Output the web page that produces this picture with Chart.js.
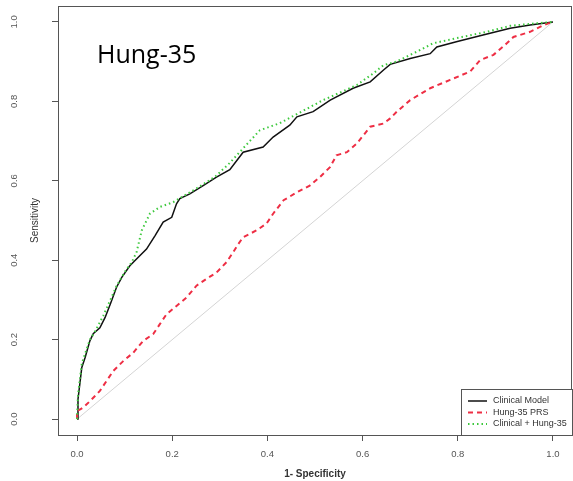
<!DOCTYPE html>
<html lang="en">
<head>
    <meta charset="UTF-8">
    <title>Hung-35 ROC</title>
    <script src="https://cdn.jsdelivr.net/npm/chart.js"></script>
    <style>
        html, body { margin: 0; padding: 0; background: #fff; }
        #wrap { width: 573px; height: 481px; position: relative; }
    </style>
</head>
<body>
    <div id="wrap"><canvas id="roc"></canvas></div>

    <script>
        // ROC curves (x = 1 - specificity, y = sensitivity)
        var clinicalX = [0, 0.002, 0.006, 0.01, 0.017, 0.027, 0.034, 0.048, 0.059, 0.07, 0.083, 0.094, 0.111, 0.125, 0.146, 0.164, 0.181, 0.199, 0.209, 0.216, 0.237, 0.265, 0.293, 0.321, 0.349, 0.391, 0.412, 0.447, 0.462, 0.496, 0.532, 0.58, 0.616, 0.644, 0.658, 0.7, 0.742, 0.756, 0.797, 0.853, 0.91, 0.952, 1];
        var clinicalY = [0, 0.05, 0.09, 0.13, 0.155, 0.197, 0.215, 0.23, 0.256, 0.29, 0.332, 0.357, 0.386, 0.403, 0.428, 0.462, 0.496, 0.508, 0.542, 0.555, 0.567, 0.588, 0.609, 0.628, 0.672, 0.685, 0.71, 0.74, 0.761, 0.774, 0.803, 0.833, 0.849, 0.879, 0.893, 0.908, 0.92, 0.937, 0.95, 0.967, 0.984, 0.992, 1];

        var prsX = [0, 0, 0.013, 0.027, 0.048, 0.062, 0.076, 0.097, 0.118, 0.139, 0.16, 0.174, 0.188, 0.209, 0.23, 0.251, 0.272, 0.293, 0.314, 0.328, 0.339, 0.349, 0.377, 0.398, 0.412, 0.434, 0.462, 0.489, 0.51, 0.532, 0.545, 0.567, 0.588, 0.616, 0.644, 0.658, 0.672, 0.7, 0.742, 0.784, 0.826, 0.847, 0.875, 0.903, 0.917, 0.952, 0.98, 1];
        var prsY = [0, 0.02, 0.029, 0.045, 0.071, 0.096, 0.121, 0.146, 0.167, 0.197, 0.214, 0.239, 0.264, 0.285, 0.306, 0.336, 0.353, 0.369, 0.395, 0.42, 0.441, 0.458, 0.475, 0.492, 0.517, 0.551, 0.571, 0.588, 0.609, 0.635, 0.664, 0.672, 0.694, 0.736, 0.744, 0.757, 0.774, 0.803, 0.833, 0.854, 0.875, 0.904, 0.917, 0.946, 0.962, 0.975, 0.992, 1];

        var comboX = [0, 0.002, 0.006, 0.01, 0.017, 0.027, 0.04, 0.055, 0.07, 0.083, 0.1, 0.115, 0.125, 0.136, 0.153, 0.174, 0.202, 0.216, 0.25, 0.29, 0.321, 0.363, 0.384, 0.426, 0.462, 0.517, 0.588, 0.622, 0.644, 0.671, 0.714, 0.748, 0.797, 0.861, 0.91, 0.952, 1];
        var comboY = [0, 0.06, 0.1, 0.14, 0.165, 0.2, 0.225, 0.26, 0.3, 0.335, 0.37, 0.395, 0.42, 0.475, 0.517, 0.534, 0.546, 0.556, 0.58, 0.61, 0.645, 0.7, 0.727, 0.745, 0.768, 0.803, 0.841, 0.87, 0.891, 0.9, 0.925, 0.946, 0.959, 0.975, 0.99, 0.995, 1];

        var refX = [0, 1];
        var refY = [0, 1];

        var tickValues = [0, 0.2, 0.4, 0.6, 0.8, 1.0];
        var seriesNames = ['Clinical Model', 'Hung-35 PRS', 'Clinical + Hung-35'];
        var panelTitle = 'Hung-35';

        function toPoints(xs, ys) {
            return xs.map(function (x, i) { return { x: x, y: ys[i] }; });
        }

        var frameColor = '#555';
        var tickFont = '9.5px "Liberation Sans", Arial, sans-serif';

        // frame, rotated y tick labels, panel title and R-style legend
        var extras = {
            id: 'extras',
            afterDatasetsDraw: function (chart) {
                var ctx = chart.ctx;
                var a = chart.chartArea;
                var ys = chart.scales.y;
                ctx.save();

                // box round the plot
                ctx.strokeStyle = frameColor;
                ctx.lineWidth = 1;
                ctx.strokeRect(a.left + 0.5, a.top + 0.5, a.right - a.left - 1, a.bottom - a.top);

                // y tick labels, read bottom to top
                ctx.fillStyle = '#555';
                ctx.font = tickFont;
                ctx.textAlign = 'center';
                ctx.textBaseline = 'middle';
                tickValues.forEach(function (v) {
                    ctx.save();
                    ctx.translate(14, ys.getPixelForValue(v));
                    ctx.rotate(-Math.PI / 2);
                    ctx.fillText(v.toFixed(1), 0, 0);
                    ctx.restore();
                });

                // panel title
                ctx.fillStyle = '#000';
                ctx.font = '25px "Open Sans", sans-serif';
                ctx.textAlign = 'left';
                ctx.textBaseline = 'alphabetic';
                ctx.fillText(panelTitle, 97, 63);

                // legend
                var lx = 461, ly = 389;
                ctx.fillStyle = '#fff';
                ctx.fillRect(lx, ly, a.right - lx, a.bottom - ly);
                ctx.strokeStyle = frameColor;
                ctx.strokeRect(lx + 0.5, ly + 0.5, a.right - lx, a.bottom - ly);
                ctx.font = '9px "Liberation Sans", Arial, sans-serif';
                ctx.textBaseline = 'middle';
                chart.data.datasets.slice(0, 3).forEach(function (ds, i) {
                    var yy = ly + 12 + i * 11.5;
                    ctx.strokeStyle = ds.borderColor;
                    ctx.lineWidth = ds.borderWidth;
                    ctx.setLineDash(ds.borderDash || []);
                    ctx.beginPath();
                    ctx.moveTo(468, yy);
                    ctx.lineTo(487, yy);
                    ctx.stroke();
                    ctx.setLineDash([]);
                    ctx.fillStyle = '#333';
                    ctx.fillText(seriesNames[i], 493, yy);
                });
                ctx.restore();
            }
        };

        var ctx = document.getElementById('roc').getContext('2d');
        var rocChart = new Chart(ctx, {
            type: 'line',
            data: {
                datasets: [{
                    label: seriesNames[0],
                    data: toPoints(clinicalX, clinicalY),
                    borderColor: '#111',
                    borderWidth: 1.5,
                    order: 3
                }, {
                    label: seriesNames[1],
                    data: toPoints(prsX, prsY),
                    borderColor: '#ee2e44',
                    borderWidth: 2,
                    borderDash: [5, 4],
                    order: 2
                }, {
                    label: seriesNames[2],
                    data: toPoints(comboX, comboY),
                    borderColor: '#3cc83c',
                    borderWidth: 2,
                    borderDash: [1.5, 3],
                    order: 1
                }, {
                    label: 'reference',
                    data: toPoints(refX, refY),
                    borderColor: '#d4d4d4',
                    borderWidth: 1,
                    order: 4
                }]
            },
            options: {
                responsive: true,
                maintainAspectRatio: false,
                animation: false,
                elements: { point: { radius: 0 }, line: { tension: 0 } },
                layout: { padding: { top: 6, right: 1, left: 0, bottom: 0 } },
                plugins: {
                    legend: { display: false },
                    tooltip: { enabled: false }
                },
                scales: {
                    x: {
                        type: 'linear',
                        min: -0.04,
                        max: 1.04,
                        afterBuildTicks: function (s) { s.ticks = tickValues.map(function (v) { return { value: v }; }); },
                        afterFit: function (s) { s.height = 46; },
                        grid: { drawOnChartArea: false, tickLength: 6, color: frameColor },
                        border: { display: false },
                        ticks: {
                            padding: 8,
                            maxRotation: 0,
                            color: '#555',
                            font: { family: '"Liberation Sans", Arial, sans-serif', size: 9.5 },
                            callback: function (v) { return v.toFixed(1); }
                        },
                        title: {
                            display: true,
                            text: '1- Specificity',
                            color: '#333',
                            padding: { top: 0, bottom: 1 },
                            font: { family: '"Liberation Sans", Arial, sans-serif', size: 10, weight: 'bold' }
                        }
                    },
                    y: {
                        type: 'linear',
                        min: -0.04,
                        max: 1.04,
                        afterBuildTicks: function (s) { s.ticks = tickValues.map(function (v) { return { value: v }; }); },
                        afterFit: function (s) { s.width = 58; },
                        grid: { drawOnChartArea: false, tickLength: 6, color: frameColor },
                        border: { display: false },
                        ticks: { display: false },
                        title: {
                            display: true,
                            text: 'Sensitivity',
                            color: '#333',
                            padding: { top: 29, bottom: 0 },
                            font: { family: '"Liberation Sans", Arial, sans-serif', size: 10 }
                        }
                    }
                }
            },
            plugins: [extras]
        });
    </script>
</body>
</html>
